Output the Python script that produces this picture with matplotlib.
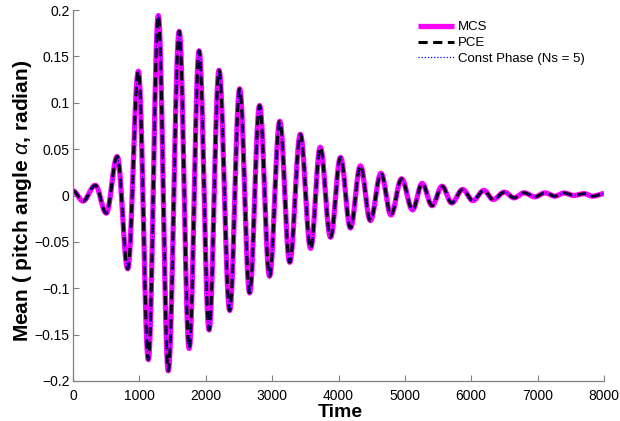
import numpy as np
import matplotlib
matplotlib.use('Agg')
import matplotlib.pyplot as plt

# extrema (time, value)
ext_time = [0, 150, 336, 501, 666, 825, 985, 1135, 1285, 1435,
            1600, 1750, 1900, 2050, 2200, 2361, 2511, 2661, 2811, 2961,
            3115, 3265, 3425, 3580, 3725, 3880, 4030, 4180, 4330, 4480,
            4640, 4790, 4950, 5115, 5260, 5410, 5560, 5705, 5870, 6025,
            6190, 6330, 6500, 6645, 6795, 6960, 7110, 7260, 7400, 7540,
            7700, 7830, 8000]
mcs_ext = [0.005, -0.006, 0.011, -0.019, 0.042, -0.079, 0.134, -0.177, 0.194, -0.189,
           0.177, -0.165, 0.156, -0.145, 0.135, -0.124, 0.115, -0.105, 0.097, -0.087,
           0.080, -0.072, 0.066, -0.057, 0.052, -0.045, 0.041, -0.035, 0.032, -0.027,
           0.024, -0.021, 0.018, -0.0155, 0.013, -0.011, 0.010, -0.008, 0.0065, -0.0055,
           0.0055, -0.0043, 0.0036, -0.0025, 0.0029, -0.0014, 0.0028, -0.0007, 0.0027, 0.0,
           0.002, -0.0007, 0.002]
# the three methods coincide at this scale
pce_ext = list(mcs_ext)
cp_ext = list(mcs_ext)

legend_labels = ['MCS', 'PCE', 'Const Phase (Ns = 5)']
x_ticks = [0, 1000, 2000, 3000, 4000, 5000, 6000, 7000, 8000]
y_ticks = [-0.2, -0.15, -0.1, -0.05, 0, 0.05, 0.1, 0.15, 0.2]


def smooth_curve(tk, vk, n=30):
    # half-cosine shape between consecutive extrema
    ts, vs = [], []
    for i in range(len(tk) - 1):
        s = np.linspace(0, 1, n, endpoint=False)
        w = (1 - np.cos(np.pi * s)) / 2
        ts.append(tk[i] + (tk[i + 1] - tk[i]) * s)
        vs.append(vk[i] + (vk[i + 1] - vk[i]) * w)
    ts.append([tk[-1]])
    vs.append([vk[-1]])
    return np.concatenate(ts), np.concatenate(vs)


plt.rcParams['font.family'] = ['Liberation Sans', 'DejaVu Sans']
plt.rcParams['mathtext.fontset'] = 'custom'
plt.rcParams['mathtext.it'] = 'Liberation Sans:italic'

fig = plt.figure(figsize=(6.2, 4.21), dpi=100)
ax = fig.add_axes([73 / 620, 1 - 381 / 421, (604 - 73) / 620, (381 - 10) / 421])

t1, y1 = smooth_curve(ext_time, mcs_ext)
t2, y2 = smooth_curve(ext_time, pce_ext)
t3, y3 = smooth_curve(ext_time, cp_ext)
ax.plot(t1, y1, color='#ff00ff', lw=3.8, label=legend_labels[0], solid_capstyle='butt')
ax.plot(t2, y2, color='black', lw=2.2, linestyle=(0, (3, 1.8)), label=legend_labels[1])
ax.plot(t3, y3, color='#0000ff', lw=0.9, linestyle=(0, (1, 1.5)), label=legend_labels[2])

ax.set_xlim(0, 8000)
ax.set_ylim(-0.2, 0.2)
ax.set_xticks(x_ticks)
ax.set_xticklabels([str(v) for v in x_ticks])
ax.set_yticks(y_ticks)
ax.set_yticklabels(['\u22120.2', '\u22120.15', '\u22120.1', '\u22120.05', '0',
                    '0.05', '0.1', '0.15', '0.2'])
ax.tick_params(direction='in', length=4, width=0.8, color='#808080', labelsize=10)
ax.tick_params(axis='x', pad=6)
ax.tick_params(axis='y', pad=2.5)
for side in ['top', 'right']:
    ax.spines[side].set_visible(False)
for side in ['left', 'bottom']:
    ax.spines[side].set_color('#808080')
    ax.spines[side].set_linewidth(0.9)

ax.set_xlabel('Time', fontsize=14, fontweight='bold')
ax.xaxis.set_label_coords(0.503, -0.062)
ax.set_ylabel('Mean ( pitch angle $\\alpha$, radian)', fontsize=15, fontweight='bold')
ax.yaxis.set_label_coords(-0.074, 0.485)

ax.legend(loc='upper left', bbox_to_anchor=(418 / 620, 1 - 21 / 421),
          bbox_transform=fig.transFigure, frameon=False, fontsize=9.5,
          handlelength=2.7, handletextpad=0.3, labelspacing=0.28, borderpad=0,
          borderaxespad=0)

fig.savefig('out.png', dpi=100)
